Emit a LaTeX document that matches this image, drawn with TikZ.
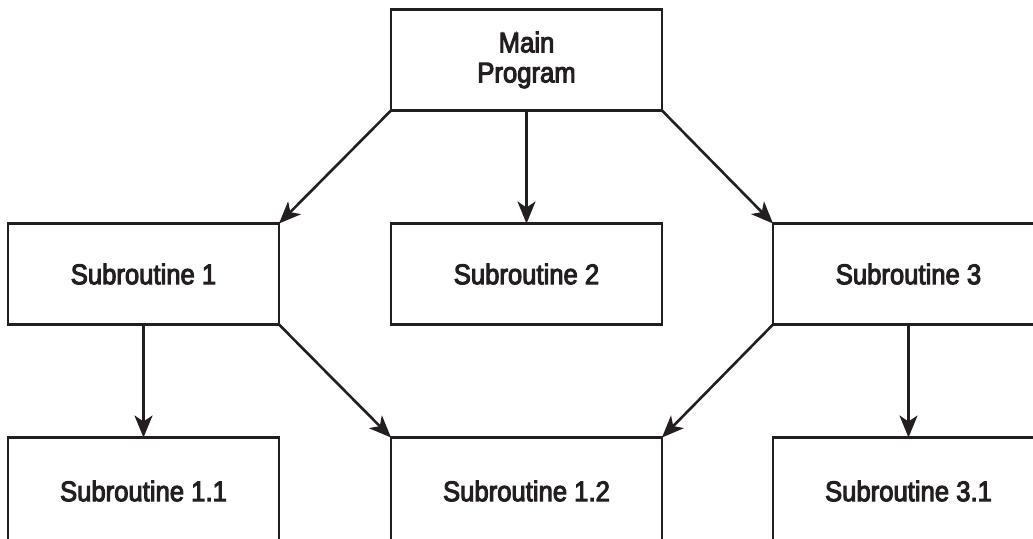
\documentclass[tikz,border=0pt]{standalone}
\usepackage{fontspec}
\setmainfont{Liberation Sans}[FakeStretch=0.9, FakeBold=3.5]
\usetikzlibrary{arrows.meta}
\definecolor{ink}{HTML}{231F20}
\begin{document}
\begin{tikzpicture}[x=1pt,y=-1pt,
  box/.style={draw=ink, line width=2.6pt, minimum width=271pt, minimum height=101pt,
    inner sep=0pt, outer sep=0pt, align=center, text=ink,
    font=\fontsize{28.5}{30}\selectfont},
  lowbox/.style={box, minimum height=107pt},
  link/.style={draw=ink, line width=2.6pt,
    -{Stealth[length=22pt, width=18pt, inset=6pt]}}]
\useasboundingbox (0,0) rectangle (1033,538);
\node[box] (main) at (526.5,60) {Main\\Program};
\node[box] (s1) at (143.5,274) {Subroutine 1};
\node[box] (s2) at (526.5,274) {Subroutine 2};
\node[box] (s3) at (908.5,274) {Subroutine 3};
\node[lowbox] (s11) at (143.5,491) {Subroutine 1.1};
\node[lowbox] (s12) at (526.5,491) {Subroutine 1.2};
\node[lowbox] (s31) at (908.5,491) {Subroutine 3.1};
\draw[link] (main.south west) -- (s1.north east);
\draw[link] (main.south) -- (s2.north);
\draw[link] (main.south east) -- (s3.north west);
\draw[link] (s1.south) -- (s11.north);
\draw[link] (s1.south east) -- (s12.north west);
\draw[link] (s3.south west) -- (s12.north east);
\draw[link] (s3.south) -- (s31.north);
\end{tikzpicture}
\end{document}
